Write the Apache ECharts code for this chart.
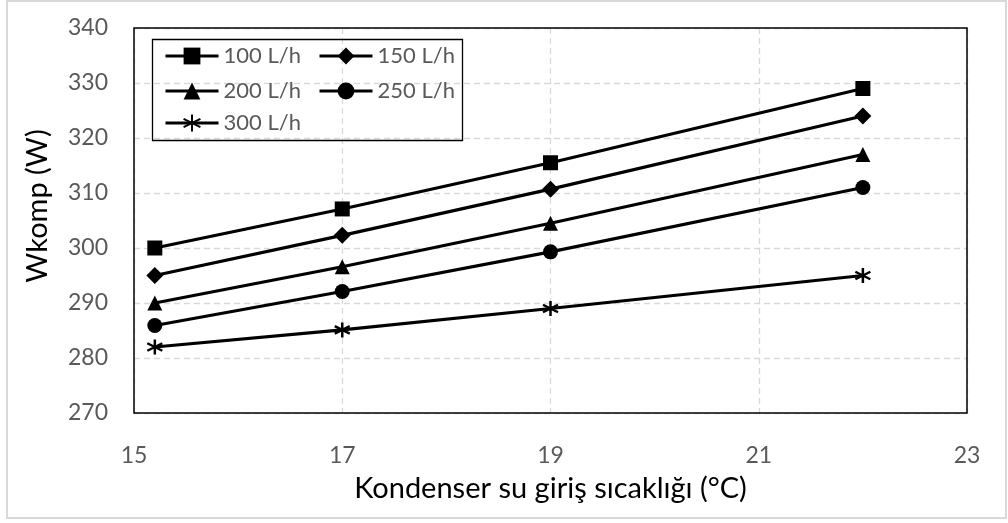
<!DOCTYPE html>
<html>
<head>
<meta charset="utf-8">
<script src="https://cdn.jsdelivr.net/npm/echarts@6/dist/echarts.min.js"></script>
<style>
  html, body { margin: 0; padding: 0; background: #fff; }
  #chart { width: 1008px; height: 523px; }
</style>
</head>
<body>
<div id="chart"></div>
<script>
// ---- Data ----
const xValues = [15.2, 17, 19, 22];
const seriesNames = ['100 L/h', '150 L/h', '200 L/h', '250 L/h', '300 L/h'];
const flow100 = [300, 307.1, 315.5, 329];
const flow150 = [295, 302.3, 310.7, 324];
const flow200 = [290, 296.6, 304.5, 317];
const flow250 = [285.9, 292.1, 299.3, 311];
const flow300 = [282, 285.1, 289, 295];
const xAxisTitle = 'Kondenser su giriş sıcaklığı (°C)';
const yAxisTitle = 'Wkomp (W)';

const FONT = 'Lato';
const starPath = 'path://M0,-10L0,10M-8.66,-5L8.66,5M-8.66,5L8.66,-5';

function pairs(ys) { return xValues.map((x, i) => [x, ys[i]]); }

const symbols = [
  { symbol: 'rect', size: 15 },
  { symbol: 'diamond', size: 17 },
  { symbol: 'triangle', size: 15 },
  { symbol: 'circle', size: 15 },
  { symbol: starPath, size: 15 }
];
const allData = [flow100, flow150, flow200, flow250, flow300];

const series = seriesNames.map((name, i) => ({
  name: name,
  type: 'line',
  data: pairs(allData[i]),
  symbol: symbols[i].symbol,
  symbolSize: symbols[i].size,
  showAllSymbol: true,
  lineStyle: { color: '#000', width: 3.2 },
  itemStyle: i === 4
    ? { color: '#000', borderColor: '#000', borderWidth: 2.5 }
    : { color: '#000', borderWidth: 0 },
  emphasis: { disabled: true },
  animation: false,
  z: 3
}));

const legendPos = [
  { left: 164, top: 45 },
  { left: 318, top: 45 },
  { left: 164, top: 80 },
  { left: 318, top: 80 },
  { left: 164, top: 112 }
];
const legends = seriesNames.map((name, i) => ({
  data: [name],
  left: legendPos[i].left,
  top: legendPos[i].top,
  padding: 0,
  itemWidth: 53,
  itemHeight: 21,
  selectedMode: false,
  lineStyle: { width: 3 },
  textStyle: { fontFamily: FONT, fontSize: 22, color: '#595959', lineHeight: 22 }
}));

const chart = echarts.init(document.getElementById('chart'), null, { renderer: 'canvas' });
chart.setOption({
  animation: false,
  backgroundColor: '#fff',
  grid: {
    left: 134, right: 41, top: 28, bottom: 110, z: 1,
    show: true, borderColor: '#000', borderWidth: 1.5, backgroundColor: 'transparent'
  },
  xAxis: {
    type: 'value', min: 15, max: 23, interval: 2,
    axisLine: { show: false },
    axisTick: { show: false },
    axisLabel: { fontFamily: FONT, fontSize: 23, color: '#595959', margin: 31, lineHeight: 24 },
    splitLine: { show: true, lineStyle: { color: '#d9d9d9', width: 1.3, type: [6, 4] } },
    name: xAxisTitle,
    nameLocation: 'middle',
    nameGap: 57,
    nameTextStyle: { fontFamily: FONT, fontSize: 29, color: '#000', lineHeight: 32 }
  },
  yAxis: {
    type: 'value', min: 270, max: 340, interval: 10,
    axisLine: { show: false },
    axisTick: { show: false },
    axisLabel: { fontFamily: FONT, fontSize: 23, color: '#595959', margin: 26 },
    splitLine: { show: true, lineStyle: { color: '#d9d9d9', width: 1.3, type: [6, 4] } },
    name: yAxisTitle,
    nameLocation: 'middle',
    nameGap: 80,
    nameTextStyle: { fontFamily: FONT, fontSize: 29, color: '#000', lineHeight: 32, padding: [0, 0, 0, 29] }
  },
  legend: legends,
  graphic: [
    {
      type: 'rect', silent: true, z: 10,
      shape: { x: 152.5, y: 39.5, width: 310, height: 101 },
      style: { fill: 'transparent', stroke: '#000', lineWidth: 1.3 }
    },
    {
      type: 'rect', silent: true, z: 10,
      shape: { x: 7, y: 1, width: 999, height: 517 },
      style: { fill: 'transparent', stroke: '#d9d9d9', lineWidth: 2 }
    }
  ],
  series: series
});
</script>
</body>
</html>
